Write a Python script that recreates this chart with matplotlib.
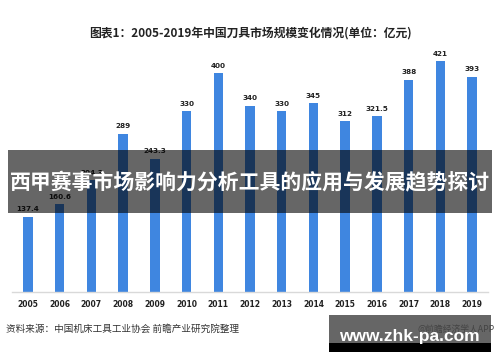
import matplotlib
matplotlib.use("Agg")
import matplotlib.pyplot as plt
from matplotlib.patches import Rectangle

plt.rcParams["font.family"] = ["Noto Sans CJK SC", "DejaVu Sans"]

years = ["2005", "2006", "2007", "2008", "2009", "2010", "2011", "2012",
         "2013", "2014", "2015", "2016", "2017", "2018", "2019"]
values = [137.4, 160.6, 204.3, 289, 243.3, 330, 400, 340,
          330, 345, 312, 321.5, 388, 421, 393]
labels = ["137.4", "160.6", "204.3", "289", "243.3", "330", "400", "340",
          "330", "345", "312", "321.5", "388", "421", "393"]

title = "图表1：2005-2019年中国刀具市场规模变化情况(单位：亿元)"
banner = "西甲赛事市场影响力分析工具的应用与发展趋势探讨"
source = "资料来源：中国机床工具工业协会 前瞻产业研究院整理"

W, H = 500, 362
fig = plt.figure(figsize=(W / 100, H / 100), dpi=100)
fig.patch.set_facecolor("white")

# plot area in pixel terms: x 12..488, baseline at y=292, top at y=50
ax = fig.add_axes([12 / W, (H - 292) / H, 476 / W, 242 / H])
x = list(range(len(years)))
ax.bar(x, values, width=0.3, color="#3F86E0")
for xi, v, lab in zip(x, values, labels):
    ax.text(xi, v + 8, lab, ha="center", va="bottom", fontsize=5.2,
            fontweight="bold", color="#222222", family="DejaVu Sans")
ax.set_xlim(-0.5, len(years) - 0.5)
ax.set_ylim(0, 442)
ax.set_xticks(x)
ax.set_xticklabels(years, fontsize=5.5, fontweight="bold", color="#222222",
                   family="DejaVu Sans")
ax.tick_params(axis="x", length=0, pad=6)
ax.set_yticks([])
for s in ["top", "right", "left"]:
    ax.spines[s].set_visible(False)
ax.spines["bottom"].set_color("#d9d9d9")
ax.spines["bottom"].set_linewidth(1.0)
ax.patch.set_alpha(0)

fig.text(0.5, 1 - 33 / H, title, ha="center", va="center", fontsize=8.5,
         fontweight="bold", color="#222222")
fig.text(6 / W, 1 - 329 / H, source, ha="left", va="center", fontsize=6.9,
         color="#333333")

# dark translucent banner over the chart
fig.patches.append(Rectangle((8 / W, 1 - 213 / H), 484 / W, 63 / H,
                             transform=fig.transFigure, facecolor="black",
                             alpha=0.6, zorder=5))
fig.text(0.5, 1 - 183 / H, banner, ha="center", va="center", fontsize=15,
         fontweight="bold", color="white", zorder=6)

# site watermark box, bottom right
fig.patches.append(Rectangle((329 / W, 1 - 343 / H), 162 / W, 28 / H,
                             transform=fig.transFigure, facecolor="#666666",
                             zorder=5))
fig.patches.append(Rectangle((329 / W, 1 - 352 / H), 162 / W, 9 / H,
                             transform=fig.transFigure, facecolor="black",
                             zorder=5))
fig.text(417 / W, 1 - 329 / H, "@前瞻经济学人APP", ha="left", va="center",
         fontsize=6.3, color="#444444", zorder=6)
fig.text(409 / W, 1 - 337 / H, "www.zhk-pa.com", ha="center", va="center",
         fontsize=12.5, fontweight="bold", color="white", zorder=7,
         family="Liberation Sans")

fig.savefig("out.png", dpi=100)
